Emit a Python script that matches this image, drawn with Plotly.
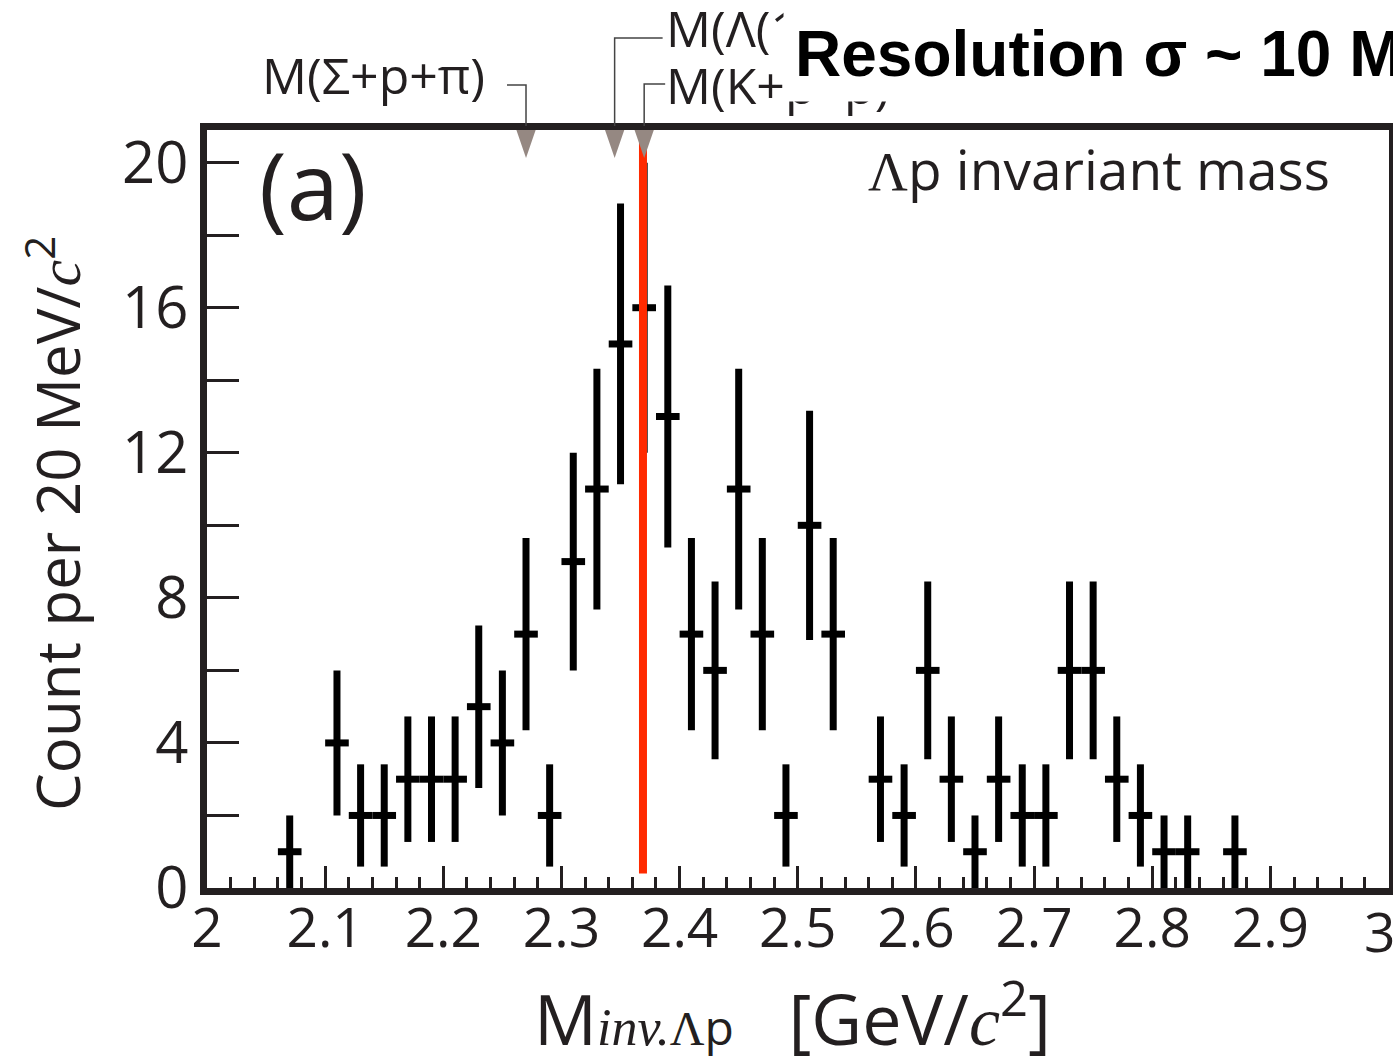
import plotly.graph_objects as go

# ---------------- data ----------------
mass_bins = [2.07, 2.11, 2.13, 2.15, 2.17, 2.19, 2.21, 2.23, 2.25, 2.27, 2.29,
             2.31, 2.33, 2.35, 2.37, 2.39, 2.41, 2.43, 2.45, 2.47, 2.49, 2.51,
             2.53, 2.57, 2.59, 2.61, 2.63, 2.65, 2.67, 2.69, 2.71, 2.73, 2.75,
             2.77, 2.79, 2.81, 2.83, 2.87]
counts = [1, 4, 2, 2, 3, 3, 3, 5, 4, 7, 2,
          9, 11, 15, 16, 13, 7, 6, 11, 7, 2, 10,
          7, 3, 2, 6, 3, 1, 3, 2, 2, 6, 6,
          3, 2, 1, 1, 1]
count_errors = [1.0, 2.0, 1.41, 1.41, 1.73, 1.73, 1.73, 2.24, 2.0, 2.65, 1.41,
                3.0, 3.32, 3.87, 4.0, 3.61, 2.65, 2.45, 3.32, 2.65, 1.41, 3.16,
                2.65, 1.73, 1.41, 2.45, 1.73, 1.0, 1.73, 1.41, 1.41, 2.45, 2.45,
                1.73, 1.41, 1.0, 1.0, 1.0]
bin_half_width = [0.01] * len(mass_bins)

threshold_labels = ["M(Σ+p+π)", "M(Λ(1405)+p)", "M(K+p+p)"]
threshold_masses = [2.270, 2.345, 2.370]
kpp_line_mass = 2.369

x_tickvals = [2.0, 2.1, 2.2, 2.3, 2.4, 2.5, 2.6, 2.7, 2.8, 2.9, 3.0]
x_ticktext = ["2", "2.1", "2.2", "2.3", "2.4", "2.5", "2.6", "2.7", "2.8", "2.9", "3"]
y_tickvals = [0, 2, 4, 6, 8, 10, 12, 14, 16, 18, 20]
y_ticktext = ["0", "", "4", "", "8", "", "12", "", "16", "", "20"]

# ---------------- layout geometry ----------------
W, H = 1393, 1056
ML, MR, MT, MB = 207, 4, 130, 168
PW, PH = W - ML - MR, H - MT - MB
XR = [2.0, 3.0004]
YR = [0.0, 20.9]

def px2paper_x(px):
    return (px - ML) / PW

def py2paper_y(py):
    return (H - MB - py) / PH

def px2dx(px):
    return px / PW * (XR[1] - XR[0])

def py2dy(py):
    return py / PH * (YR[1] - YR[0])

INK = "#231f20"
FONT = "Open Sans"
XTICK_SIZE = 55

fig = go.Figure()
fig.add_trace(go.Scatter(
    x=mass_bins, y=counts, mode="markers",
    marker=dict(size=1, color="black"),
    error_y=dict(type="data", array=count_errors, symmetric=True,
                 thickness=7, width=0, color="black"),
    error_x=dict(type="data", array=bin_half_width, symmetric=True,
                 thickness=7, width=0, color="black"),
    showlegend=False, cliponaxis=False, hoverinfo="x+y",
))

shapes = []
shapes.append(dict(type="line", xref="x", yref="y", x0=kpp_line_mass, x1=kpp_line_mass,
                   y0=0.4, y1=20.7, line=dict(color="#ff2a00", width=8), layer="above"))
tri_half = px2dx(11)
tri_h = py2dy(32)
for m in threshold_masses:
    ytop = YR[1] + py2dy(4)
    path = f"M {m - tri_half},{ytop} L {m + tri_half},{ytop} L {m},{ytop - tri_h} Z"
    shapes.append(dict(type="path", xref="x", yref="y", path=path,
                       fillcolor="#958882", line=dict(width=0), layer="above"))

lead = dict(color="#444", width=1.5)
top_py = 126
shapes.append(dict(type="path", xref="x", yref="paper",
                   path=f"M {threshold_masses[0] - px2dx(19)},{py2paper_y(85)} "
                        f"L {threshold_masses[0]},{py2paper_y(85)} L {threshold_masses[0]},{py2paper_y(top_py)}",
                   line=lead))
shapes.append(dict(type="path", xref="x", yref="paper",
                   path=f"M {threshold_masses[1]},{py2paper_y(top_py)} L {threshold_masses[1]},{py2paper_y(38)} "
                        f"L {threshold_masses[1] + px2dx(48)},{py2paper_y(38)}",
                   line=lead))
shapes.append(dict(type="path", xref="x", yref="paper",
                   path=f"M {threshold_masses[2]},{py2paper_y(top_py)} L {threshold_masses[2]},{py2paper_y(84)} "
                        f"L {threshold_masses[2] + px2dx(21)},{py2paper_y(84)}",
                   line=lead))

annotations = []
lab_font = dict(family=FONT, size=50, color=INK)
annotations.append(dict(text=threshold_labels[0], xref="paper", yref="paper",
                        x=px2paper_x(487), y=py2paper_y(75), xanchor="right", yanchor="middle",
                        showarrow=False, font=lab_font))
annotations.append(dict(text=threshold_labels[1], xref="paper", yref="paper",
                        x=px2paper_x(664), y=py2paper_y(28), xanchor="left", yanchor="middle",
                        showarrow=False, font=lab_font))
annotations.append(dict(text=threshold_labels[2], xref="paper", yref="paper",
                        x=px2paper_x(664), y=py2paper_y(85), xanchor="left", yanchor="middle",
                        showarrow=False, font=lab_font))
annotations.append(dict(text="<b>Resolution σ ~ 10 MeV</b>", xref="paper", yref="paper",
                        x=px2paper_x(783), y=py2paper_y(54), xanchor="left", yanchor="middle",
                        showarrow=False, bgcolor="white", borderpad=11,
                        font=dict(family="Liberation Sans", size=64, color="black")))
# the last x tick label "3" (sits at the right edge of the figure)
annotations.append(dict(text=x_ticktext[-1], xref="paper", yref="paper",
                        x=px2paper_x(1379), y=py2paper_y(930), xanchor="center", yanchor="middle",
                        showarrow=False, font=dict(family=FONT, size=XTICK_SIZE, color=INK)))
annotations.append(dict(text="(a)", xref="paper", yref="paper",
                        x=px2paper_x(257), y=py2paper_y(184), xanchor="left", yanchor="middle",
                        showarrow=False, font=dict(family=FONT, size=94, color=INK)))
annotations.append(dict(text="<span style='font-family:Liberation Serif'>Λ</span>p invariant mass",
                        xref="paper", yref="paper",
                        x=px2paper_x(1332), y=py2paper_y(168), xanchor="right", yanchor="middle",
                        showarrow=False, font=dict(family=FONT, size=55, color=INK)))
annotations.append(dict(text="Count per 20 MeV/<span style='font-family:Liberation Serif'><i>c</i></span><sup>2</sup>",
                        xref="paper", yref="paper", textangle=-90,
                        x=px2paper_x(54), y=py2paper_y(524), xanchor="center", yanchor="middle",
                        showarrow=False, font=dict(family=FONT, size=60, color=INK)))
annotations.append(dict(text="M<span style='font-family:Liberation Serif;font-size:52px'><i>inv.</i></span>"
                             "<span style='font-size:48px'><span style='font-family:Liberation Serif'>Λ</span>p</span>"
                             "   [GeV/<span style='font-family:Liberation Serif'><i>c</i></span><sup>2</sup>]",
                        xref="paper", yref="paper",
                        x=px2paper_x(792), y=py2paper_y(1015), xanchor="center", yanchor="middle",
                        showarrow=False, font=dict(family=FONT, size=70, color=INK)))

fig.update_layout(
    width=W, height=H,
    margin=dict(l=ML, r=MR, t=MT, b=MB, autoexpand=False),
    paper_bgcolor="white", plot_bgcolor="white",
    shapes=shapes, annotations=annotations,
    xaxis=dict(range=XR, showgrid=False, zeroline=False,
               showline=True, linewidth=7, linecolor=INK, mirror=True,
               ticks="inside", ticklen=22, tickwidth=3, tickcolor=INK,
               tickvals=x_tickvals[:-1], ticktext=x_ticktext[:-1], ticklabelstandoff=-14,
               minor=dict(ticks="inside", ticklen=11, tickwidth=3, tickcolor=INK,
                          tick0=2, dtick=0.02, showgrid=False),
               tickfont=dict(family=FONT, size=XTICK_SIZE, color=INK)),
    yaxis=dict(range=YR, showgrid=False, zeroline=False,
               showline=True, linewidth=7, linecolor=INK, mirror=True,
               ticks="inside", ticklen=32, tickwidth=3, tickcolor=INK,
               tickvals=y_tickvals, ticktext=y_ticktext,
               tickfont=dict(family=FONT, size=58, color=INK)),
)

fig.write_html("out.html")
